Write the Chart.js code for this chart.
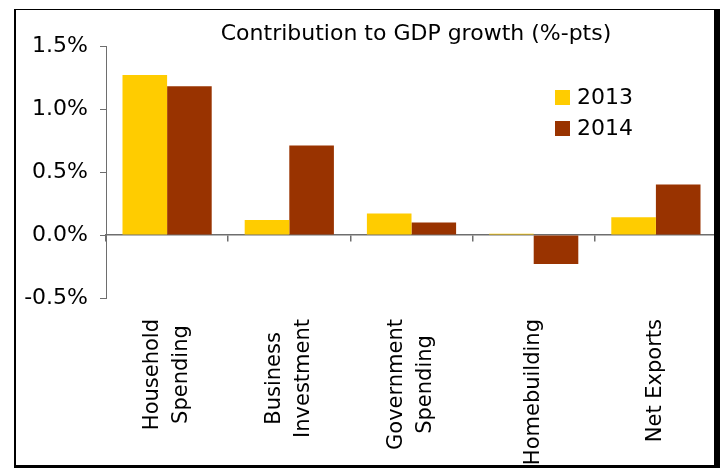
<!DOCTYPE html>
<html>
<head>
<meta charset="utf-8">
<script src="https://cdn.jsdelivr.net/npm/chart.js@4"></script>
<style>
  body { margin: 0; background: #fff; }
  .wrap { position: relative; width: 726px; height: 470px; }
  .frame {
    position: absolute; left: 14px; top: 9px; width: 698px; height: 455px;
    border-left: 2px solid #000; border-top: 1px solid #000;
    border-right: 6px solid #000; border-bottom: 3px solid #000;
    pointer-events: none;
  }
</style>
</head>
<body>
<div class="wrap">
  <canvas id="chart" width="726" height="470"></canvas>
  <div class="frame"></div>
</div>
<script>
// data
const categories = [
  ['Household', 'Spending'],
  ['Business', 'Investment'],
  ['Government', 'Spending'],
  ['Homebuilding'],
  ['Net Exports']
];
const values2013 = [1.27, 0.12, 0.17, 0.01, 0.14];
const values2014 = [1.18, 0.71, 0.10, -0.23, 0.40];
const yTickLabels = ['-0.5%', '0.0%', '0.5%', '1.0%', '1.5%'];
const chartTitle = 'Contribution to GDP growth (%-pts)';

const FONT = '"DejaVu Sans", Verdana, sans-serif';

// title, legend and wrapped category labels drawn by hand
const decorations = {
  id: 'decorations',
  afterDraw(chart) {
    const ctx = chart.ctx;
    const xs = chart.scales.x;
    ctx.save();
    ctx.fillStyle = '#000';

    ctx.font = '22px ' + FONT;
    ctx.textAlign = 'center';
    ctx.textBaseline = 'alphabetic';
    ctx.fillText(chartTitle, 416, 40);

    // legend
    chart.data.datasets.forEach((ds, i) => {
      const top = 90 + i * 31;
      ctx.fillStyle = ds.backgroundColor;
      ctx.fillRect(555, top, 15, 15);
      ctx.fillStyle = '#000';
      ctx.textAlign = 'left';
      ctx.font = '22px ' + FONT;
      ctx.fillText(ds.label, 577, top + 14);
    });

    // category labels, rotated, block centred on the category
    ctx.font = '21px ' + FONT;
    ctx.textAlign = 'center';
    ctx.textBaseline = 'middle';
    const lineH = 29;
    categories.forEach((lines, i) => {
      const cx = xs.getPixelForValue(i);
      const w = Math.max(...lines.map(l => ctx.measureText(l).width));
      const cy = 319 + w / 2;
      lines.forEach((line, j) => {
        const x = cx + (j - (lines.length - 1) / 2) * lineH;
        ctx.save();
        ctx.translate(x, cy);
        ctx.rotate(-Math.PI / 2);
        ctx.fillText(line, 0, 0);
        ctx.restore();
      });
    });
    ctx.restore();
  }
};

new Chart(document.getElementById('chart'), {
  type: 'bar',
  data: {
    labels: categories.map(c => c.join(' ')),
    datasets: [
      { label: '2013', data: values2013, backgroundColor: '#FFCC00' },
      { label: '2014', data: values2014, backgroundColor: '#993300' }
    ]
  },
  options: {
    responsive: false,
    animation: false,
    events: [],
    layout: { padding: { top: 46, right: 9, bottom: 172, left: 0 } },
    datasets: { bar: { categoryPercentage: 0.73, barPercentage: 1.0 } },
    plugins: { legend: { display: false }, title: { display: false }, tooltip: { enabled: false } },
    scales: {
      x: {
        position: { y: 0 },
        offset: true,
        afterFit(scale) { scale.height = 0; },
        ticks: { display: false },
        grid: { offset: true, drawOnChartArea: false, drawTicks: true, tickLength: 6, color: '#6e6e6e', lineWidth: 1.5 },
        border: { display: true, color: '#6e6e6e', width: 1.5 }
      },
      y: {
        min: -0.5,
        max: 1.5,
        afterFit(scale) { scale.width = 106; },
        ticks: {
          stepSize: 0.5,
          padding: 12,
          color: '#000',
          font: { family: FONT, size: 22 },
          callback: (v, i) => yTickLabels[i]
        },
        grid: { drawOnChartArea: false, drawTicks: true, tickLength: 6, color: '#6e6e6e' },
        border: { display: true, color: '#6e6e6e', width: 1 }
      }
    }
  },
  plugins: [decorations]
});
</script>
</body>
</html>
